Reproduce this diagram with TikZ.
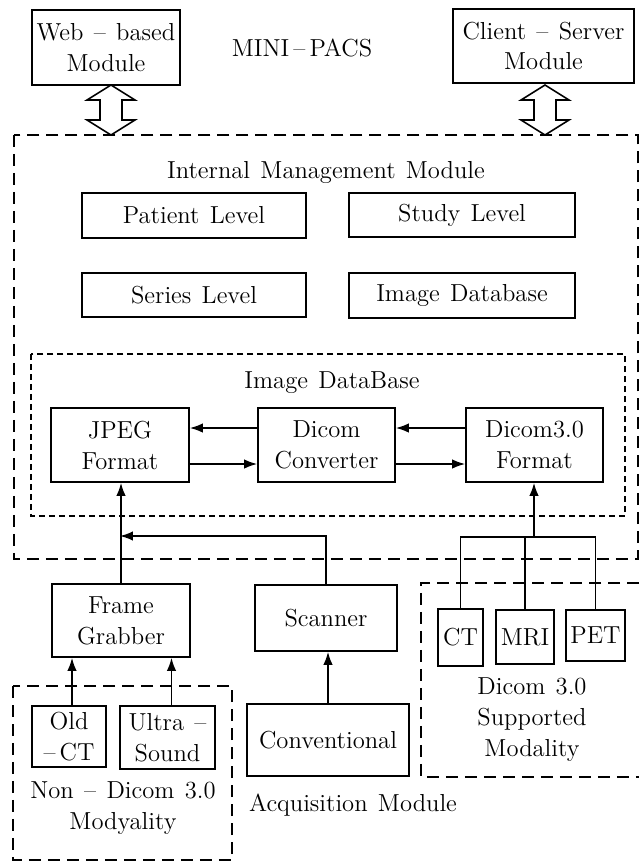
\documentclass[tikz,border=0pt]{standalone}
\usepackage{tikz}
\usetikzlibrary{arrows.meta, calc}
\newcommand{\flowArrow}{{Latex[length=2.6mm, width=1.9mm]}}
\def\px{0.02cm}

\begin{document}
\begin{tikzpicture}[x=\px, y=-\px, font={\fontsize{14}{17.6}\selectfont\spaceskip=0.42em\relax},
	box/.style={draw, line width=1pt, inner sep=0pt, align=center},
	boxsize/.style 2 args={minimum width=#1*\px, minimum height=#2*\px},
	bigdash/.style={line width=1pt, dash pattern=on 2.4mm off 1.4mm},
	smalldash/.style={line width=0.8pt, dash pattern=on 1.2mm off 0.8mm},
	link/.style={line width=0.9pt}]
	\useasboundingbox (0,0) rectangle (639,862);
	
	% top modules
	\node[box, boxsize={148}{75}]	(web) at (106,47.5)	{Web -- based\\Module};
	\node[box, boxsize={181}{74}]	(client) at (543.5,46)	{Client -- Server\\Module};
	\node	(pacs) at (302,48)	{MINI\,--\,PACS};
	
	% hollow double arrows
	\foreach \ax in {111,545}
		\draw[line width=0.9pt, fill=white] (\ax,85) -- (\ax+24,100) -- (\ax+11,100) -- (\ax+11,120) -- (\ax+24,120)
			-- (\ax,135) -- (\ax-24,120) -- (\ax-11,120) -- (\ax-11,100) -- (\ax-24,100) -- cycle;
	
	% internal management module
	\draw[bigdash] (14,135) rectangle (638,559);
	\node	(imm) at (326,172)	{Internal Management Module};
	\node[box, boxsize={224}{45}]	(patient) at (194,215.5)	{Patient Level};
	\node[box, boxsize={226}{44}]	(study) at (462,215)	{Study Level};
	\node[box, boxsize={224}{44}]	(series) at (194,295)	{Series Level};
	\node[box, boxsize={226}{45}]	(imgdb) at (462,295.5)	{Image Database};
	
	% image database
	\draw[smalldash] (31,354) rectangle (625,516);
	\node	(idb) at (332,383)	{Image DataBase};
	\node[box, boxsize={138}{74}]	(jpeg) at (120,445)	{JPEG\\Format};
	\node[box, boxsize={137}{74}]	(conv) at (326.5,445)	{Dicom\\Converter};
	\node[box, boxsize={137}{74}]	(dcm) at (534.5,445)	{Dicom3.0\\Format};
	
	\draw[link, -\flowArrow] ($(conv.west)+(0,-17)$) -- ($(jpeg.east)+(0,-17)$);
	\draw[link, -\flowArrow] ($(jpeg.east)+(0,19)$) -- ($(conv.west)+(0,19)$);
	\draw[link, -\flowArrow] ($(dcm.west)+(0,-17)$) -- ($(conv.east)+(0,-17)$);
	\draw[link, -\flowArrow] ($(conv.east)+(0,19)$) -- ($(dcm.west)+(0,19)$);
	
	% acquisition module
	\node[box, boxsize={138}{73}]	(grab) at (121,620.5)	{Frame\\Grabber};
	\node[box, boxsize={142}{66}]	(scan) at (326,618)	{Scanner};
	\node[box, boxsize={162}{72}]	(conventional) at (328,740)	{Conventional};
	\node	(acq) at (353,805)	{Acquisition Module};
	
	\coordinate (acqjoin) at (120,536);
	\draw[link, -\flowArrow] (grab.north) -- (grab.north |- jpeg.south);
	\draw[link, -\flowArrow] (scan.north) |- (acqjoin);
	\draw[link, -\flowArrow] (conventional.north) -- (conventional.north |- scan.south);
	
	% non dicom modality
	\draw[bigdash] (13,686) rectangle (232,860);
	\node[box, boxsize={74}{61}]	(oldct) at (69,736.5)	{Old\\--\,CT};
	\node[box, boxsize={95}{63}]	(ultra) at (167.5,737.5)	{Ultra --\\Sound};
	\node[align=center]	(nondicom) at (123,808)	{Non -- Dicom 3.0\\Modyality};
	
	\draw[link, -\flowArrow] ($(oldct.north)+(3,0)$) -- ($(oldct.north |- grab.south)+(3,0)$);
	\draw[link, -\flowArrow] ($(ultra.north)+(4,0)$) -- ($(ultra.north |- grab.south)+(4,0)$);
	
	% dicom 3.0 supported modality
	\draw[bigdash] (639,583) -- (421,583) -- (421,777) -- (639,777);
	\node[box, boxsize={45}{57}]	(ct) at (460.5,637.5)	{CT};
	\node[box, boxsize={58}{54}]	(mri) at (525,637)	{MRI};
	\node[box, boxsize={59}{51}]	(pet) at (595.5,635.5)	{PET};
	\node[align=center]	(supported) at (532,720)	{Dicom 3.0\\Supported\\Modality};
	
	\coordinate (bus) at (534,537);
	\draw[link, -\flowArrow] (bus) -- (bus |- dcm.south);
	\draw[link] (ct.north) |- (bus) -| (pet.north);
	\draw[link] (mri.north) -- (mri.north |- bus);
\end{tikzpicture}
\end{document}
